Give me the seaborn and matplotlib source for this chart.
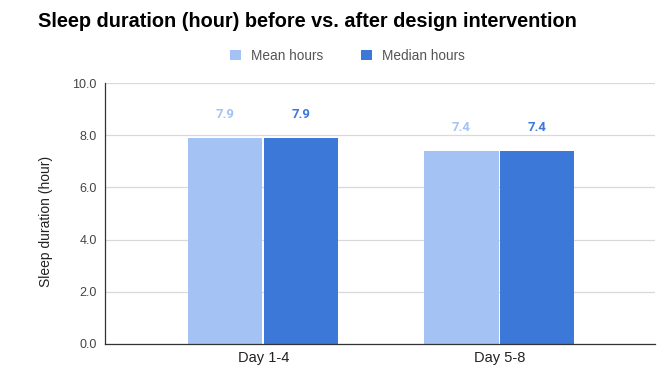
import matplotlib
matplotlib.use("Agg")
import matplotlib.pyplot as plt
from matplotlib.patches import Patch
import seaborn as sns
import pandas as pd

# Sleep duration summary per period
periods = ["Day 1-4", "Day 5-8"]
mean_hours = [7.9, 7.4]
median_hours = [7.9, 7.4]
series_names = ["Mean hours", "Median hours"]
colors = ["#a4c2f4", "#3c78d8"]
yticks = [0.0, 2.0, 4.0, 6.0, 8.0, 10.0]

df = pd.DataFrame({
    "period": periods * 2,
    "hours": mean_hours + median_hours,
    "series": [series_names[0]] * len(periods) + [series_names[1]] * len(periods),
})

sns.set_theme(style="white")
plt.rcParams["font.family"] = ["Liberation Sans", "DejaVu Sans"]

fig = plt.figure(figsize=(6.61, 3.69), dpi=100)
ax = fig.add_axes([0.159, 0.068, 0.832, 0.707])

sns.barplot(data=df, x="period", y="hours", hue="series", palette=colors,
            width=0.64, gap=0.02, ax=ax, legend=False, saturation=1,
            edgecolor="none")

ax.set_ylim(0, 10)
ax.set_xlim(-0.67, 1.66)
ax.set_yticks(yticks)
ax.set_yticklabels([f"{t:.1f}" for t in yticks])
ax.yaxis.grid(True, color="#d9d9d9", linewidth=0.9)
ax.set_axisbelow(True)
for s in ["top", "right"]:
    ax.spines[s].set_visible(False)
ax.spines["left"].set_color("#333333")
ax.spines["left"].set_linewidth(0.9)
ax.spines["bottom"].set_color("#333333")
ax.spines["bottom"].set_linewidth(0.9)
ax.tick_params(axis="y", length=0, labelsize=9, labelcolor="#444444", pad=6)
ax.tick_params(axis="x", length=0, labelsize=10.5, labelcolor="#222222", pad=5)
ax.set_xlabel("")
ax.set_ylabel("Sleep duration (hour)", fontsize=10, color="#222222")
ax.yaxis.set_label_coords(-0.095, 0.471)

# value labels above each bar, coloured by series
for container, col in zip(ax.containers, colors):
    ax.bar_label(container, labels=[f"{b.get_height():.1f}" for b in container],
                 padding=12, color=col, fontsize=9.5, fontweight="bold",
                 family=["Roboto", "DejaVu Sans"])

fig.text(0.0575, 0.942, "Sleep duration (hour) before vs. after design intervention",
         fontsize=14.3, fontweight="bold", color="#000000", va="center", ha="left")

handles = [Patch(facecolor=c, edgecolor="none") for c in colors]
fig.legend(handles, series_names, loc="center", bbox_to_anchor=(0.526, 0.849),
           ncol=2, frameon=False, labelcolor="#555555", fontsize=9.8,
           handlelength=0.8, handleheight=0.8, handletextpad=0.73, columnspacing=2.8)

fig.savefig("out.png", dpi=100)
